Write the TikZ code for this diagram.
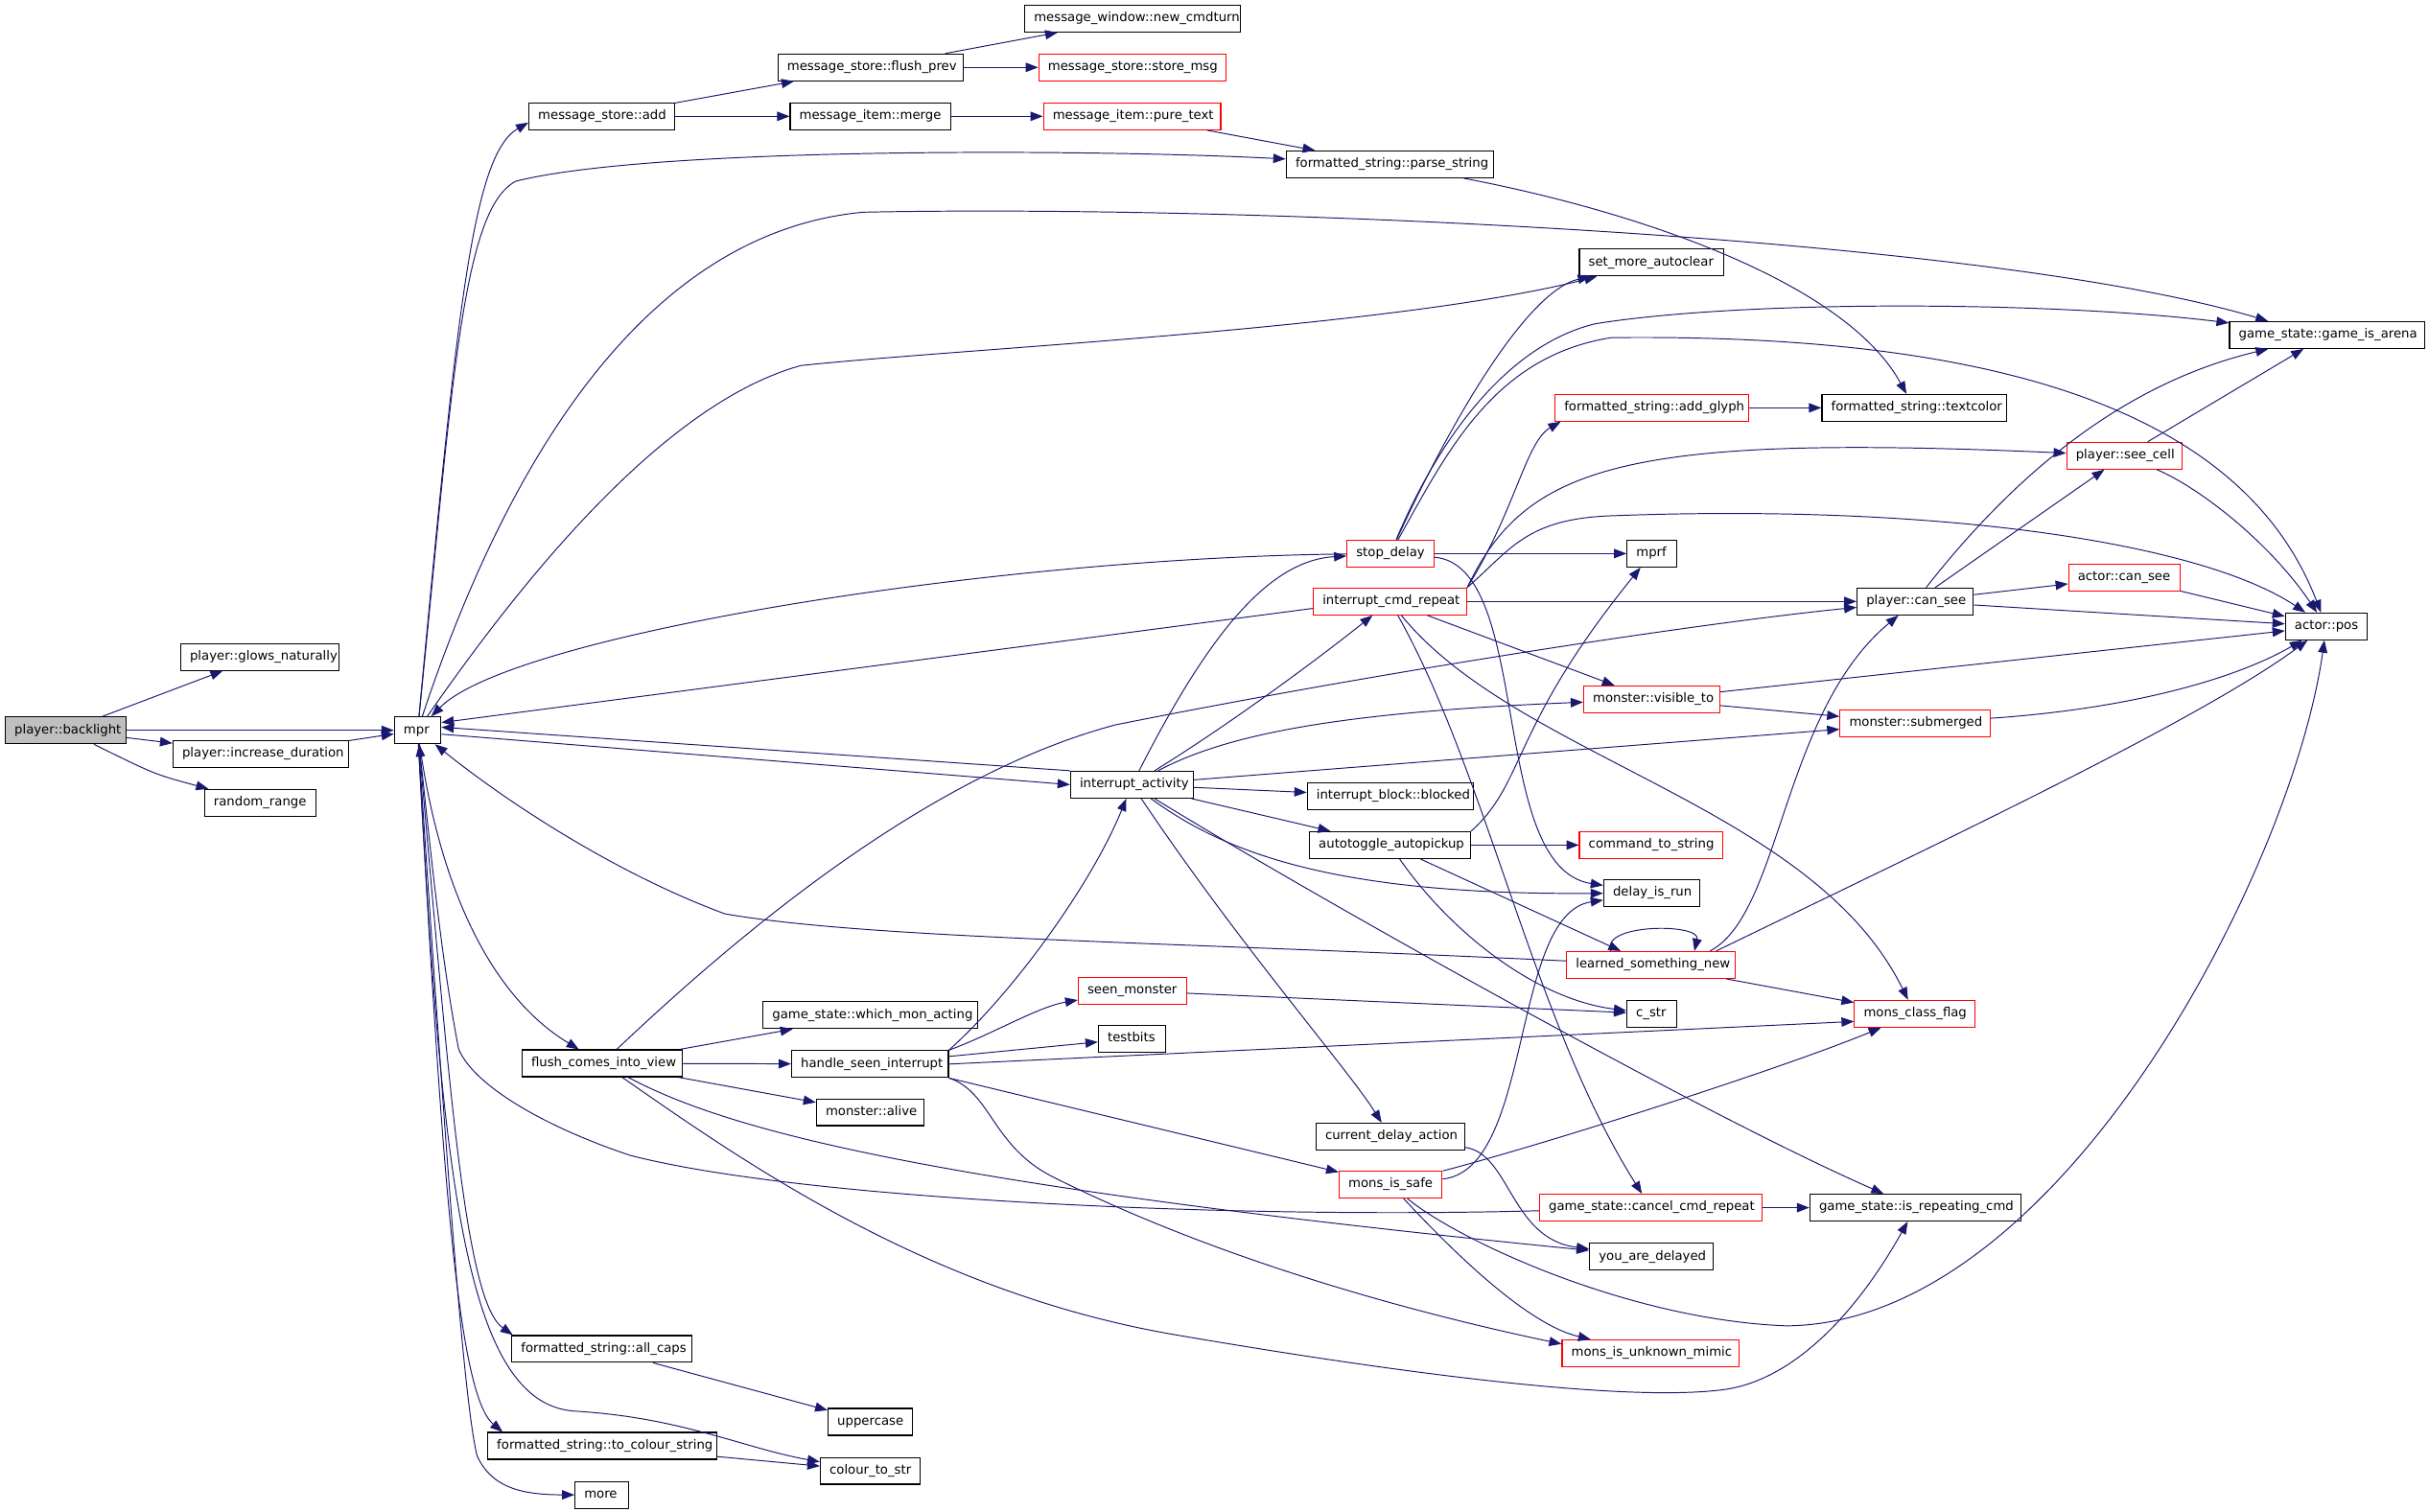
\documentclass[tikz,border=0pt]{standalone}
\usepackage{fontspec}
\setmainfont{DejaVu Sans}
\usepackage{tikz}
\usetikzlibrary{arrows.meta}
\definecolor{edgeblue}{RGB}{25,25,112}
\definecolor{bgray}{RGB}{191,191,191}
\newcommand{\callname}[2]{\makebox[\dimexpr#1pt-12pt\relax][l]{#2}}
\begin{document}
\begin{tikzpicture}[x=1pt,y=-1pt,
  fnbox/.style={draw=black, line width=0.7pt, fill=white, inner xsep=6pt, inner ysep=0pt,
    minimum height=17.3pt, text height=6pt, text depth=1.8pt, font=\fontsize{8.2}{9}\selectfont},
  fnred/.style={fnbox, draw=red},
  callarrow/.style={draw=edgeblue, line width=0.6pt, -{Triangle[length=8pt,width=6pt]}}]
\fill[white] (0,0) rectangle (1568,975.6);
\node[fnbox, fill=bgray] (backlight) at (42.4,471.5) {\callname{78}{player::backlight}};
\node[fnbox] (glows) at (167.6,424.1) {\callname{102}{player::glows\_naturally}};
\node[fnbox] (incdur) at (168.3,486.7) {\callname{113.3}{player::increase\_duration}};
\node[fnbox] (randrange) at (168,518.3) {\callname{72}{random\_range}};
\node[fnbox] (mpr) at (269.6,471.5) {\callname{30}{mpr}};
\node[fnbox] (msgadd) at (388.4,75.1) {\callname{94}{message\_store::add}};
\node[fnbox] (flushprev) at (561.9,43.5) {\callname{119.5}{message\_store::flush\_prev}};
\node[fnbox] (newturn) at (731,12) {\callname{139}{message\_window::new\_cmdturn}};
\node[fnred] (storemsg) at (731,43.5) {\callname{121}{message\_store::store\_msg}};
\node[fnbox] (merge) at (561.8,75.1) {\callname{103.5}{message\_item::merge}};
\node[fnred] (puretext) at (730.8,75.1) {\callname{114.5}{message\_item::pure\_text}};
\node[fnbox] (parsestr) at (897.3,106.1) {\callname{134}{formatted\_string::parse\_string}};
\node[fnbox] (setmore) at (1066,169.5) {\callname{93}{set\_more\_autoclear}};
\node[fnbox] (arena) at (1502.1,216.3) {\callname{125.8}{game\_state::game\_is\_arena}};
\node[fnred] (addglyph) at (1066.3,263.3) {\callname{125}{formatted\_string::add\_glyph}};
\node[fnbox] (textcolor) at (1235.6,263.3) {\callname{119}{formatted\_string::textcolor}};
\node[fnred] (seecell) at (1371.3,294.2) {\callname{74.5}{player::see\_cell}};
\node[fnred] (stopdelay) at (897.5,357.4) {\callname{56}{stop\_delay}};
\node[fnbox] (mprf) at (1066.3,357.4) {\callname{32}{mprf}};
\node[fnred] (cmdrepeat) at (897.3,388.3) {\callname{99}{interrupt\_cmd\_repeat}};
\node[fnbox] (pcansee) at (1236.3,388.3) {\callname{75}{player::can\_see}};
\node[fnred] (acansee) at (1371.3,372.8) {\callname{72}{actor::can\_see}};
\node[fnbox] (apos) at (1501.7,404.4) {\callname{52.8}{actor::pos}};
\node[fnred] (visible) at (1066.3,451.5) {\callname{88}{monster::visible\_to}};
\node[fnred] (submerged) at (1236.3,467) {\callname{97}{monster::submerged}};
\node[fnbox] (iact) at (730.7,506.6) {\callname{79.3}{interrupt\_activity}};
\node[fnbox] (blocked) at (897.5,514) {\callname{107.3}{interrupt\_block::blocked}};
\node[fnbox] (autopick) at (897.3,545.6) {\callname{104}{autotoggle\_autopickup}};
\node[fnred] (cmdstr) at (1065.8,545.6) {\callname{92.5}{command\_to\_string}};
\node[fnbox] (delayrun) at (1066.2,576.5) {\callname{62}{delay\_is\_run}};
\node[fnred] (learned) at (1065.8,623) {\callname{109}{learned\_something\_new}};
\node[fnred] (classflag) at (1236.1,654.5) {\callname{78}{mons\_class\_flag}};
\node[fnbox] (cstr) at (1066.3,654.5) {\callname{32.3}{c\_str}};
\node[fnred] (seenmon) at (731,639.7) {\callname{70}{seen\_monster}};
\node[fnbox] (testbits) at (730.7,670.6) {\callname{43.3}{testbits}};
\node[fnbox] (whichmon) at (561.9,655.4) {\callname{138.7}{game\_state::which\_mon\_acting}};
\node[fnbox] (comesview) at (388.6,686.5) {\callname{103.3}{flush\_comes\_into\_view}};
\node[fnbox] (seenint) at (561.6,687) {\callname{101.2}{handle\_seen\_interrupt}};
\node[fnbox] (alive) at (561.7,718.1) {\callname{69.4}{monster::alive}};
\node[fnbox] (curdelay) at (897.5,733.8) {\callname{96}{current\_delay\_action}};
\node[fnred] (safe) at (897.7,764.8) {\callname{66.5}{mons\_is\_safe}};
\node[fnred] (cancel) at (1065.6,779.7) {\callname{143.6}{game\_state::cancel\_cmd\_repeat}};
\node[fnbox] (isrepeat) at (1236.5,779.7) {\callname{136.4}{game\_state::is\_repeating\_cmd}};
\node[fnbox] (delayed) at (1066.1,811.3) {\callname{80}{you\_are\_delayed}};
\node[fnred] (mimic) at (1065.6,873.7) {\callname{114.4}{mons\_is\_unknown\_mimic}};
\node[fnbox] (allcaps) at (388.5,870.9) {\callname{116.3}{formatted\_string::all\_caps}};
\node[fnbox] (uppercase) at (561.8,918) {\callname{54.5}{uppercase}};
\node[fnbox] (tocolour) at (388.8,933.5) {\callname{148}{formatted\_string::to\_colour\_string}};
\node[fnbox] (colourstr) at (561.8,949.6) {\callname{64.5}{colour\_to\_str}};
\node[fnbox] (more) at (388.4,965.2) {\callname{34.5}{more}};

\draw[callarrow] (backlight) -- (glows);
\draw[callarrow] (backlight) -- (mpr);
\draw[callarrow] (backlight) -- (incdur);
\draw[callarrow] (backlight) .. controls (100,500) .. (randrange);
\draw[callarrow] (incdur) -- (mpr);

\draw[callarrow] (mpr) .. controls (295,200) and (305,100) .. ([yshift=-4pt]msgadd.west);
\draw[callarrow] (mpr) .. controls (292,250) and (298,135) .. (333,117) .. controls (420,95) and (700,96) .. (parsestr);
\draw[callarrow] (mpr) .. controls (330,290) and (420,150) .. (557,137) .. controls (800,132) and (1280,152) .. ([xshift=-38pt]arena.north);
\draw[callarrow] (mpr) .. controls (340,370) and (430,260) .. (517,236) .. controls (620,225) and (900,212) .. (setmore);
\draw[callarrow] (mpr) .. controls (285,580) and (320,645) .. (comesview);
\draw[callarrow] (mpr) .. controls (290,700) and (300,840) .. ([xshift=1pt]allcaps.north west);
\draw[callarrow] (mpr) .. controls (285,750) and (295,900) .. ([xshift=10pt]tocolour.north west);
\draw[callarrow] (mpr) .. controls (285,760) and (300,905) .. (370,911) .. controls (440,915) and (480,935) .. (colourstr);
\draw[callarrow] (mpr) .. controls (285,700) and (298,900) .. (308,940) .. controls (318,962) and (340,965) .. (more);
\draw[callarrow] ([yshift=-2.5pt]mpr.east) -- (iact.west);

\draw[callarrow] (msgadd) -- (flushprev);
\draw[callarrow] (msgadd) -- (merge);
\draw[callarrow] (flushprev) -- (newturn);
\draw[callarrow] (flushprev) -- (storemsg);
\draw[callarrow] (merge) -- (puretext);
\draw[callarrow] (puretext) -- (parsestr);
\draw[callarrow] (parsestr) .. controls (1050,135) and (1190,180) .. (textcolor);
\draw[callarrow] (addglyph) -- (textcolor);

\draw[callarrow] (stopdelay) .. controls (640,360) and (330,410) .. (mpr);
\draw[callarrow] (stopdelay) .. controls (935,275) and (985,188) .. (setmore);
\draw[callarrow] (stopdelay) .. controls (930,280) and (975,222) .. (1030,209) .. controls (1130,193) and (1330,195) .. (arena);
\draw[callarrow] (stopdelay) .. controls (935,290) and (965,230) .. (1040,218) .. controls (1300,215) and (1450,270) .. (apos);
\draw[callarrow] (stopdelay) -- (mprf);
\draw[callarrow] (stopdelay) .. controls (990,365) and (960,560) .. (delayrun);

\draw[callarrow] ([yshift=-4.5pt]cmdrepeat.west) -- ([yshift=5pt]mpr.east);
\draw[callarrow] (cmdrepeat.north east) .. controls (978,330) and (985,285) .. ([xshift=4pt]addglyph.south west);
\draw[callarrow] (cmdrepeat.north east) .. controls (985,300) and (1050,280) .. (seecell);
\draw[callarrow] (cmdrepeat.north east) .. controls (975,355) and (985,335) .. (1040,333) .. controls (1250,325) and (1420,350) .. (apos);
\draw[callarrow] (cmdrepeat) -- (pcansee);
\draw[callarrow] (cmdrepeat) -- (visible);
\draw[callarrow] (cmdrepeat) .. controls (980,490) and (1170,520) .. (classflag);
\draw[callarrow] (cmdrepeat) .. controls (960,500) and (990,660) .. (cancel);

\draw[callarrow] (pcansee) .. controls (1290,320) and (1360,250) .. (arena);
\draw[callarrow] (pcansee) -- (seecell);
\draw[callarrow] (pcansee) -- (acansee);
\draw[callarrow] (pcansee) -- (apos);
\draw[callarrow] (seecell) -- (arena);
\draw[callarrow] (seecell) .. controls (1420,315) and (1465,350) .. (apos);
\draw[callarrow] (acansee) -- (apos);
\draw[callarrow] (visible) -- (apos);
\draw[callarrow] (visible) -- (submerged);
\draw[callarrow] (submerged) .. controls (1370,458) and (1440,440) .. (apos);

\draw[callarrow] (iact.north west) -- ([yshift=2pt]mpr.east);
\draw[callarrow] (iact) .. controls (775,420) and (815,362) .. (stopdelay);
\draw[callarrow] (iact) .. controls (790,470) and (845,430) .. (cmdrepeat);
\draw[callarrow] (iact) .. controls (790,475) and (860,460) .. (visible);
\draw[callarrow] (iact) -- (submerged);
\draw[callarrow] (iact) -- (blocked);
\draw[callarrow] (iact) -- (autopick);
\draw[callarrow] (iact) .. controls (790,550) and (860,578) .. (delayrun);
\draw[callarrow] (iact) .. controls (800,610) and (870,690) .. (curdelay);
\draw[callarrow] (iact) .. controls (850,580) and (1100,720) .. (isrepeat);

\draw[callarrow] (autopick.north east) .. controls (985,505) and (975,470) .. (mprf);
\draw[callarrow] (autopick) -- (cmdstr);
\draw[callarrow] (autopick) -- (learned);
\draw[callarrow] (autopick) .. controls (935,600) and (990,645) .. (cstr);

\draw[callarrow] (learned) .. controls (750,608) and (560,606) .. (468,590) .. controls (400,565) and (330,520) .. (mpr);
\draw[callarrow] ([xshift=-26pt]learned.north) .. controls (1033,596) and (1098,596) .. ([xshift=28pt]learned.north);
\draw[callarrow] ([xshift=38pt]learned.north) .. controls (1150,590) and (1150,460) .. (pcansee);
\draw[callarrow] ([xshift=42pt]learned.north) .. controls (1250,545) and (1420,465) .. (apos);
\draw[callarrow] (learned) -- (classflag);
\draw[callarrow] (seenmon) -- (cstr);

\draw[callarrow] (comesview) .. controls (480,600) and (600,500) .. (720,468) .. controls (900,432) and (1100,402) .. (pcansee);
\draw[callarrow] (comesview) -- (whichmon);
\draw[callarrow] (comesview) -- (seenint);
\draw[callarrow] (comesview) -- (alive);
\draw[callarrow] (comesview) .. controls (470,730) and (600,765) .. (delayed);
\draw[callarrow] (comesview) .. controls (480,750) and (600,835) .. (760,862) .. controls (900,886) and (1050,906) .. (1114,897) .. controls (1160,890) and (1200,845) .. (isrepeat);

\draw[callarrow] (seenint.north east) .. controls (655,640) and (705,570) .. (iact);
\draw[callarrow] (seenint.north east) .. controls (640,668) and (670,650) .. (seenmon);
\draw[callarrow] (seenint) -- (testbits);
\draw[callarrow] (seenint.east) -- ([yshift=-5pt]classflag.west);
\draw[callarrow] (seenint.south east) -- (safe);
\draw[callarrow] (seenint.south east) .. controls (640,705) and (640,740) .. (680,760) .. controls (780,810) and (900,845) .. ([yshift=6pt]mimic.west);

\draw[callarrow] (curdelay) .. controls (975,745) and (975,800) .. (delayed);
\draw[callarrow] (safe) .. controls (990,755) and (975,590) .. (delayrun);
\draw[callarrow] (safe) .. controls (1000,738) and (1150,690) .. (classflag);
\draw[callarrow] (safe) .. controls (935,805) and (985,855) .. (mimic);
\draw[callarrow] (safe) .. controls (940,800) and (1050,852) .. (1153,856) .. controls (1330,855) and (1480,560) .. (apos);
\draw[callarrow] (cancel) .. controls (800,787) and (520,775) .. (407,746) .. controls (350,727) and (305,700) .. (296,677) .. controls (285,620) and (278,550) .. (mpr);
\draw[callarrow] (cancel) -- (isrepeat);

\draw[callarrow] (allcaps) -- (uppercase);
\draw[callarrow] (tocolour) -- (colourstr);
\end{tikzpicture}
\end{document}
